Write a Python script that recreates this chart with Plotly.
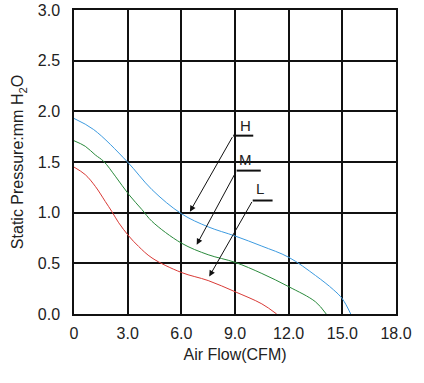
import plotly.graph_objects as go

# Data
h_x = [0, 1.1, 2.96, 4.36, 6, 7.5, 9, 10.5, 12, 13.5, 14.5, 15, 15.47]
h_y = [1.93, 1.82, 1.506, 1.227, 0.99, 0.86, 0.77, 0.67, 0.56, 0.38, 0.24, 0.15, 0]

m_x = [0, 0.63, 1.19, 1.66, 2.31, 3.06, 3.8, 4.36, 6, 7.5, 9, 10.5, 12, 13.5, 14.1]
m_y = [1.71, 1.655, 1.57, 1.506, 1.36, 1.18, 1.03, 0.914, 0.70, 0.585, 0.51, 0.40, 0.27, 0.12, 0]

l_x = [0, 0.63, 1.19, 1.75, 2.12, 2.5, 3.06, 3.61, 4.36, 6, 7.5, 9, 10.5, 11.33]
l_y = [1.45, 1.375, 1.26, 1.11, 1.01, 0.90, 0.77, 0.667, 0.553, 0.41, 0.33, 0.22, 0.10, 0]

x_ticks = [0, 3, 6, 9, 12, 15, 18]
x_tick_labels = ["0", "3.0", "6.0", "9.0", "12.0", "15.0", "18.0"]
y_ticks = [0, 0.5, 1.0, 1.5, 2.0, 2.5, 3.0]
y_tick_labels = ["0.0", "0.5", "1.0", "1.5", "2.0", "2.5", "3.0"]

# Callout labels: name, text position, underline start/end, arrow tip
labels = ["H", "M", "L"]
label_pos = [(9.56, 1.86), (9.6, 1.52), (10.4, 1.24)]
underline = [((8.9, 10.02), 1.76), ((9.09, 10.44), 1.415), ((9.99, 11.1), 1.12)]
arrow_tip = [(6.48, 1.01), (6.86, 0.684), (7.56, 0.37)]

FONT = "Liberation Sans, Arial, sans-serif"

fig = go.Figure()
for xs, ys, col in [(h_x, h_y, "#3d9be0"), (m_x, m_y, "#2a8a3c"), (l_x, l_y, "#d93a36")]:
    fig.add_trace(go.Scatter(x=xs, y=ys, mode="lines",
                             line=dict(color=col, width=1, shape="spline", smoothing=1.0),
                             showlegend=False, hoverinfo="skip"))

annotations = []
shapes = []
for name, (tx, ty), ((ux0, ux1), uy), (ax_, ay_) in zip(labels, label_pos, underline, arrow_tip):
    annotations.append(dict(x=tx, y=ty, xref="x", yref="y", text=name, showarrow=False,
                            font=dict(family=FONT, size=15, color="#222")))
    shapes.append(dict(type="line", xref="x", yref="y", x0=ux0, x1=ux1, y0=uy, y1=uy,
                       line=dict(color="#111", width=2)))
    annotations.append(dict(x=ax_, y=ay_, xref="x", yref="y", ax=ux0, ay=uy,
                            axref="x", ayref="y", text="", showarrow=True,
                            arrowhead=2, arrowsize=1.2, arrowwidth=1, arrowcolor="#111"))

fig.update_layout(
    width=424, height=383,
    margin=dict(l=74, r=28, t=10, b=69, autoexpand=False),
    paper_bgcolor="white", plot_bgcolor="white",
    font=dict(family=FONT, size=16, color="#222"),
    xaxis=dict(range=[0, 18], tickvals=x_ticks, ticktext=x_tick_labels,
               showgrid=True, gridcolor="#111", gridwidth=1.5,
               showline=True, linecolor="#111", linewidth=1.5, mirror=True,
               zeroline=False, ticks="", ticklen=0, tickfont=dict(size=16),
               ticklabelstandoff=4, automargin=False,
               title=dict(text="Air Flow(CFM)", standoff=8, font=dict(size=16))),
    yaxis=dict(range=[0, 3], tickvals=y_ticks, ticktext=y_tick_labels,
               showgrid=True, gridcolor="#111", gridwidth=1.5,
               showline=True, linecolor="#111", linewidth=1.5, mirror=True,
               zeroline=False, ticks="", ticklen=0, tickfont=dict(size=16),
               ticklabelstandoff=9, automargin=False,
               title=dict(text="Static Pressure:mm H<sub>2</sub>O", standoff=10, font=dict(size=16))),
    annotations=annotations,
    shapes=shapes,
)

fig.write_html("out.html", config={"displayModeBar": False},
               post_script="document.body.style.margin='0';document.body.style.padding='0';")
